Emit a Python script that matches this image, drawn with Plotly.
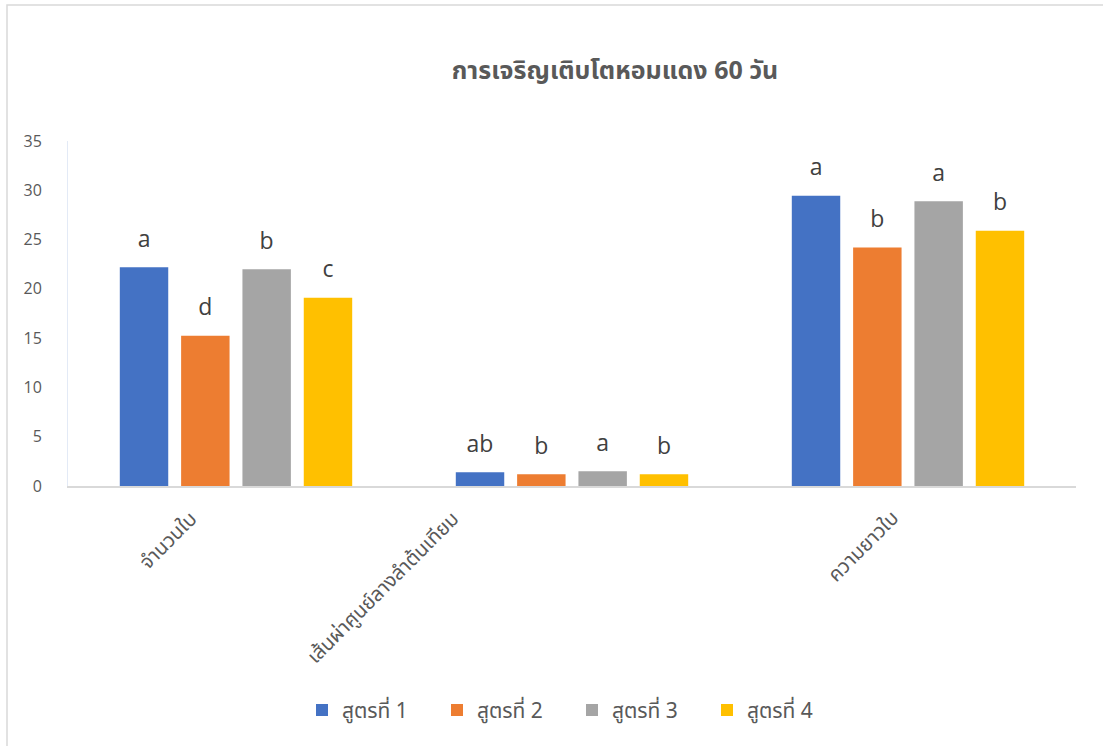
import plotly.graph_objects as go

# Growth of shallots at 60 days, four fertiliser formulas
categories = ["จำนวนใบ", "เส้นผ่าศูนย์ลางลำต้นเทียม", "ความยาวใบ"]
series_names = ["สูตรที่ 1", "สูตรที่ 2", "สูตรที่ 3", "สูตรที่ 4"]
formula_1 = [22.2, 1.4, 29.45]
formula_2 = [15.25, 1.2, 24.2]
formula_3 = [22.0, 1.5, 28.9]
formula_4 = [19.1, 1.2, 25.9]
letters_1 = ["a", "ab", "a"]
letters_2 = ["d", "b", "b"]
letters_3 = ["b", "a", "a"]
letters_4 = ["c", "b", "b"]
y_ticks = [0, 5, 10, 15, 20, 25, 30, 35]

colors = ["#4472C4", "#ED7D31", "#A5A5A5", "#FFC000"]
values = [formula_1, formula_2, formula_3, formula_4]
letters = [letters_1, letters_2, letters_3, letters_4]

thai_font = "Tahoma, 'Noto Sans Thai', 'Noto Sans', sans-serif"
text_grey = "#595959"

fig = go.Figure()

for i, name in enumerate(series_names):
    fig.add_trace(go.Bar(
        x=categories,
        y=values[i],
        name=name,
        marker=dict(color=colors[i], line=dict(width=0)),
        offsetgroup=str(i),
        hoverinfo="x+y+name",
    ))

# significance letters above each bar, grouped the same way as the bars
for i, name in enumerate(series_names):
    fig.add_trace(go.Scatter(
        x=categories,
        y=values[i],
        text=letters[i],
        mode="markers+text",
        marker=dict(size=22, opacity=0, color=colors[i]),
        textposition="top center",
        textfont=dict(family="'Open Sans', sans-serif", size=23, color="#404040"),
        offsetgroup=str(i),
        showlegend=False,
        hoverinfo="skip",
        cliponaxis=False,
    ))

# slanted category labels under the axis (pixel nudges per label)
label_nudges = [-29, -103, 1]
annotations = [
    dict(x=cat, y=0, xref="x", yref="y", text=cat, showarrow=False,
         textangle=-45, xanchor="right", yanchor="top",
         xshift=nudge, yshift=-16,
         font=dict(family=thai_font, size=20, color=text_grey))
    for cat, nudge in zip(categories, label_nudges)
]

fig.update_layout(
    width=1103,
    height=746,
    paper_bgcolor="white",
    plot_bgcolor="white",
    barmode="group",
    bargap=0.27,
    bargroupgap=0.21,
    scattermode="group",
    scattergap=0.27,
    margin=dict(l=68, r=27, t=141, b=260, pad=0),
    font=dict(family=thai_font, color=text_grey, size=16),
    title=dict(
        text="<b>การเจริญเติบโตหอมแดง 60 วัน</b>",
        x=615 / 1103,
        xanchor="center",
        y=1 - 70 / 746,
        yanchor="middle",
        font=dict(family=thai_font, size=25, color=text_grey),
    ),
    legend=dict(
        orientation="h",
        x=0.5,
        xanchor="center",
        xref="paper",
        y=-0.65,
        yanchor="middle",
        font=dict(family=thai_font, size=21, color=text_grey),
        itemwidth=30,
        entrywidth=90,
        entrywidthmode="pixels",
        traceorder="normal",
    ),
    xaxis=dict(
        showline=True,
        linecolor="#D9D9D9",
        linewidth=1.5,
        showgrid=False,
        ticks="",
        showticklabels=False,
        fixedrange=True,
    ),
    yaxis=dict(
        range=[0, 35],
        tickvals=y_ticks,
        showgrid=False,
        showline=True,
        linecolor="#E3EAF6",
        linewidth=1,
        zeroline=False,
        ticks="",
        ticklabelstandoff=22,
        tickfont=dict(family="'Open Sans', sans-serif", size=16, color=text_grey),
        fixedrange=True,
    ),
    annotations=annotations,
    shapes=[
        dict(type="rect", xref="paper", yref="paper",
             x0=-61 / 1008, x1=1.2, y0=-1.5, y1=1 + 136 / 345,
             line=dict(color="#D9D9D9", width=1.5), fillcolor="rgba(0,0,0,0)",
             layer="below"),
    ],
)

fig.write_html("out.html")
